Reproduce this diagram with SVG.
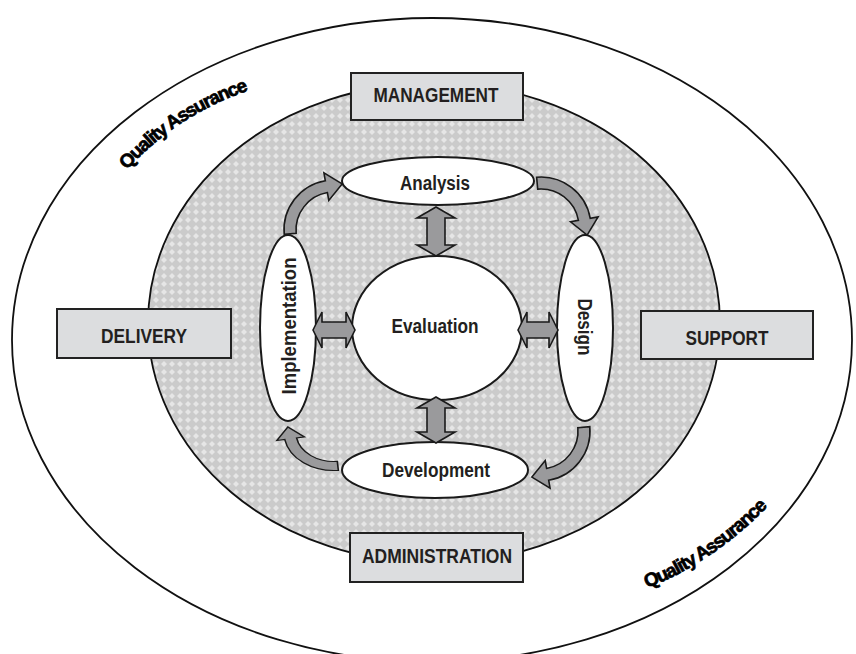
<svg xmlns="http://www.w3.org/2000/svg" width="856" height="654" viewBox="0 0 856 654">
<defs>
<pattern id="hatch" width="8" height="8" patternUnits="userSpaceOnUse">
<rect width="8" height="8" fill="#cbcbcb"/>
<path d="M4 1 L7 4 L4 7 L1 4 Z" fill="#e6e6e6"/>
</pattern>
<path id="arc" d="M-4.36,-49.81 A50,50 0 0 1 49.24,-8.68 L57.12,-10.07 L46.11,8.12 L29.54,-5.21 L37.42,-6.60 A38,38 0 0 0 -3.31,-37.86 Z"/>
<path id="qa1" d="M127,170 Q178,113 256,88"/>
<path id="qa2" d="M647,588 Q716,562 776,498"/>
</defs>
<style>
.box{fill:#dcdddf;stroke:#222;stroke-width:2}
.node{fill:#fff;stroke:#1a1a1a;stroke-width:2}
.lbl{font-family:"Liberation Sans",Arial,sans-serif;font-weight:bold;font-size:20px;fill:#231f20;text-anchor:middle}
.qa{font-family:"Liberation Sans",Arial,sans-serif;font-weight:bold;font-size:19px;fill:#000;stroke:#000;stroke-width:0.7;letter-spacing:-1.2px}
.arr{fill:#9a9a9c;stroke:#1a1a1a;stroke-width:1.6;stroke-linejoin:miter}
</style>
<rect width="856" height="654" fill="#fff"/>
<g id="outer">
<ellipse cx="432" cy="340" rx="420" ry="322" fill="#fff" stroke="#111" stroke-width="1.8"/>
<text class="qa"><textPath href="#qa1">Quality Assurance</textPath></text>
<text class="qa"><textPath href="#qa2">Quality Assurance</textPath></text>
</g>
<g id="inner">
<ellipse cx="434" cy="323" rx="286" ry="240" fill="url(#hatch)" stroke="#111" stroke-width="1.8"/>
</g>
<g id="management">
<rect class="box" x="351" y="73" width="172" height="47"/>
<text class="lbl" x="436" y="102" textLength="125" lengthAdjust="spacingAndGlyphs">MANAGEMENT</text>
</g>
<g id="delivery">
<rect class="box" x="57" y="309" width="174" height="49"/>
<text class="lbl" x="144" y="343" textLength="86" lengthAdjust="spacingAndGlyphs">DELIVERY</text>
</g>
<g id="support">
<rect class="box" x="641" y="311" width="172" height="48"/>
<text class="lbl" x="727" y="345" textLength="83" lengthAdjust="spacingAndGlyphs">SUPPORT</text>
</g>
<g id="administration">
<rect class="box" x="350" y="533" width="173" height="49"/>
<text class="lbl" x="437" y="563" textLength="150" lengthAdjust="spacingAndGlyphs">ADMINISTRATION</text>
</g>
<g id="analysis">
<ellipse class="node" cx="438" cy="181" rx="96" ry="24"/>
<text class="lbl" x="435" y="190" textLength="70" lengthAdjust="spacingAndGlyphs">Analysis</text>
</g>
<g id="evaluation">
<ellipse class="node" cx="437" cy="328" rx="85" ry="72"/>
<text class="lbl" x="435" y="333" textLength="87" lengthAdjust="spacingAndGlyphs">Evaluation</text>
</g>
<g id="implementation">
<ellipse class="node" cx="288" cy="328" rx="28" ry="93"/>
<text class="lbl" transform="translate(296,326) rotate(-90)" x="0" y="0" textLength="137" lengthAdjust="spacingAndGlyphs">Implementation</text>
</g>
<g id="design">
<ellipse class="node" cx="585" cy="328" rx="28" ry="93"/>
<text class="lbl" transform="translate(578,327) rotate(90)" x="0" y="0" textLength="57" lengthAdjust="spacingAndGlyphs">Design</text>
</g>
<g id="development">
<ellipse class="node" cx="435" cy="470" rx="93" ry="28"/>
<text class="lbl" x="436" y="477" textLength="108" lengthAdjust="spacingAndGlyphs">Development</text>
</g>
<g id="connectors">
<path class="arr" d="M436,207 L455,218 L445,218 L445,245 L455,245 L436,256 L417,245 L427,245 L427,218 L417,218 Z"/>
<path class="arr" d="M436,397 L455,408 L445,408 L445,432 L455,432 L436,443 L417,432 L427,432 L427,408 L417,408 Z"/>
<path class="arr" d="M313,330 L322,312 L322,322 L346,322 L346,312 L355,330 L346,348 L346,338 L322,338 L322,348 Z"/>
<path class="arr" d="M518,330 L527,312 L527,322 L549,322 L549,312 L558,330 L549,348 L549,338 L527,338 L527,348 Z"/>
<use href="#arc" class="arr" transform="translate(334,230) rotate(-90)"/>
<use href="#arc" class="arr" transform="translate(541,227)"/>
<use href="#arc" class="arr" transform="translate(540,431) rotate(90)"/>
<use href="#arc" class="arr" transform="translate(334,433) scale(1,0.75) rotate(180)"/>
</g>
</svg>
